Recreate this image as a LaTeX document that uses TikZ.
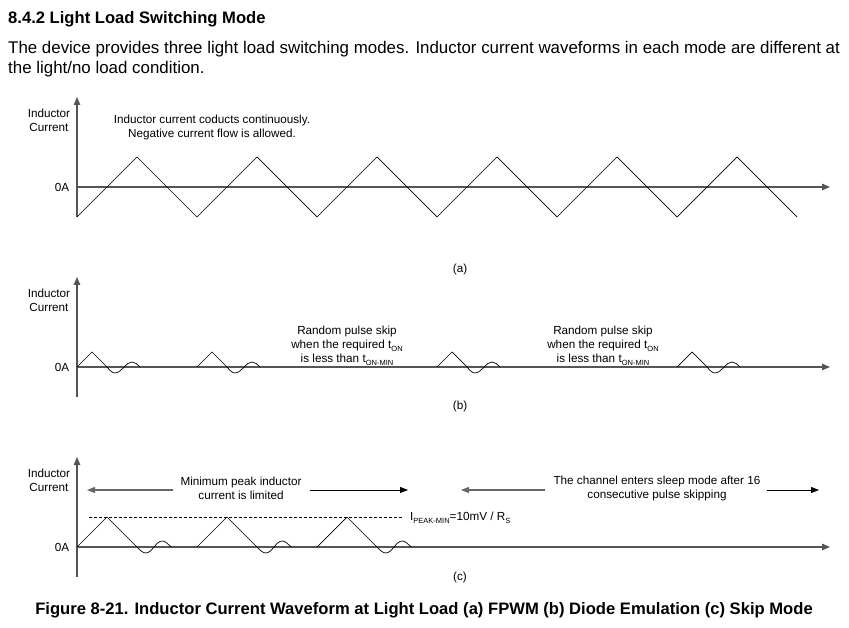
\documentclass[tikz,border=0pt]{standalone}
\usepackage{fontspec}
\setmainfont{Liberation Sans}
\usetikzlibrary{arrows.meta,positioning,calc}
\definecolor{Eje}{HTML}{555555}
\definecolor{Gris}{HTML}{666666}
\newcommand{\subi}[1]{\raisebox{-.4ex}{\fontsize{7.5}{8}\selectfont #1}}

\begin{document}
\begin{tikzpicture}[x=1pt,y=-1pt,
        eje/.style={draw=Eje,line width=1.2pt,-{Triangle[length=8pt,width=6.5pt]}},
        onda/.style={draw=black,line width=.7pt},
        rotulo/.style={font=\fontsize{11.7}{14}\selectfont,align=center,inner sep=0pt},
        texto/.style={anchor=base west,inner sep=0pt,font=\fontsize{16.9}{21}\selectfont},
        flecha/.style={line width=.8pt,-{Triangle[length=8pt,width=6pt]}},
        guia/.style={draw=black,line width=.8pt,dash pattern=on 3pt off 2pt}]
        \useasboundingbox (0,0) rectangle (849,628);
        \node[anchor=base west,inner sep=0pt,font=\bfseries\fontsize{16.6}{19}\selectfont] (tit) at (8,24) {8.4.2 Light Load Switching Mode};
        \node[texto] (par1) at (8,54) {The device provides three light load switching modes. Inductor current waveforms in each mode are different at};
        \node[texto] (par2) at (8,74) {the light/no load condition.};
        % (a)
        \coordinate (a0) at (77,217);
        \coordinate (atop) at (77,97);
        \coordinate (az) at (77,187);
        \coordinate (aend) at (830,187);
        \draw[eje] (a0) -- (atop);
        \draw[eje] (az) -- (aend);
        \draw[onda] (a0) foreach \k in {0,...,5} { -- ({137+120*\k},157) -- ({197+120*\k},217) };
        \node[rotulo] (ia) at (49,120) {Inductor\\Current};
        \node[rotulo] (ceroa) at (62,187) {0A};
        \node[rotulo] (nota) at (212,127) {Inductor current coducts continuously.\\Negative current flow is allowed.};
        \node[rotulo] (capa) at (460,269) {(a)};
        % (b)
        \coordinate (b0) at (77,397);
        \coordinate (btop) at (77,277);
        \coordinate (bz) at (77,367);
        \coordinate (bend) at (830,367);
        \draw[eje] (b0) -- (btop);
        \draw[eje] (bz) -- (bend);
        \foreach \s in {77,197,437,677}
          \draw[onda] (\s,367) -- ++(15,-15) -- ++(15,15) sin ++(8,6) cos ++(9,-6) sin ++(8,-5) cos ++(8,5);
        \node[rotulo] (ib) at (49,300) {Inductor\\Current};
        \node[rotulo] (cerob) at (62,367) {0A};
        \node[rotulo] (saltoa) at (347,346) {Random pulse skip\\when the required t\subi{ON}\\is less than t\subi{ON-MIN}};
        \node[rotulo] (saltob) at (603,346) {Random pulse skip\\when the required t\subi{ON}\\is less than t\subi{ON-MIN}};
        \node[rotulo] (capb) at (460,406) {(b)};
        % (c)
        \coordinate (c0) at (77,577);
        \coordinate (ctop) at (77,457);
        \coordinate (cz) at (77,547);
        \coordinate (cend) at (830,547);
        \draw[eje] (c0) -- (ctop);
        \draw[eje] (cz) -- (cend);
        \foreach \s in {77,197,317}
          \draw[onda] (\s,547) -- ++(30,-30) -- ++(30,30) sin ++(9,6) cos ++(8,-6) sin ++(8,-6) cos ++(9,6);
        \node[rotulo] (ic) at (49,480) {Inductor\\Current};
        \node[rotulo] (ceroc) at (62,547) {0A};
        \node[rotulo,anchor=west] (ipk) at (410,518) {I\subi{PEAK-MIN}=10mV / R\subi{S}};
        \coordinate (pk0) at (89,517);
        \coordinate (pk1) at (404,517);
        \draw[guia] (pk0) -- (pk1);
        \node[rotulo] (minpk) at (241,488) {Minimum peak inductor\\current is limited};
        \node[rotulo] (dormir) at (657,488) {The channel enters sleep mode after 16\\consecutive pulse skipping};
        \coordinate (l1) at (87,490);
        \coordinate (r1) at (408,490);
        \coordinate (l2) at (461,490);
        \coordinate (r2) at (819,490);
        \draw[flecha,line width=1.2pt,draw=Gris,fill=Gris] (minpk.west) ++(-7,2) -- (l1);
        \draw[flecha] (minpk.east) ++(8,2) -- (r1);
        \draw[flecha,line width=1.2pt,draw=Gris,fill=Gris] (dormir.west) ++(-8,2) -- (l2);
        \draw[flecha] (dormir.east) ++(6,2) -- (r2);
        \node[rotulo] (capc) at (460,577) {(c)};
        \node[inner sep=0pt,font=\bfseries\fontsize{16.6}{19}\selectfont] (pie) at (424,610) {Figure 8-21. Inductor Current Waveform at Light Load (a) FPWM (b) Diode Emulation (c) Skip Mode};
      \end{tikzpicture}
\end{document}
